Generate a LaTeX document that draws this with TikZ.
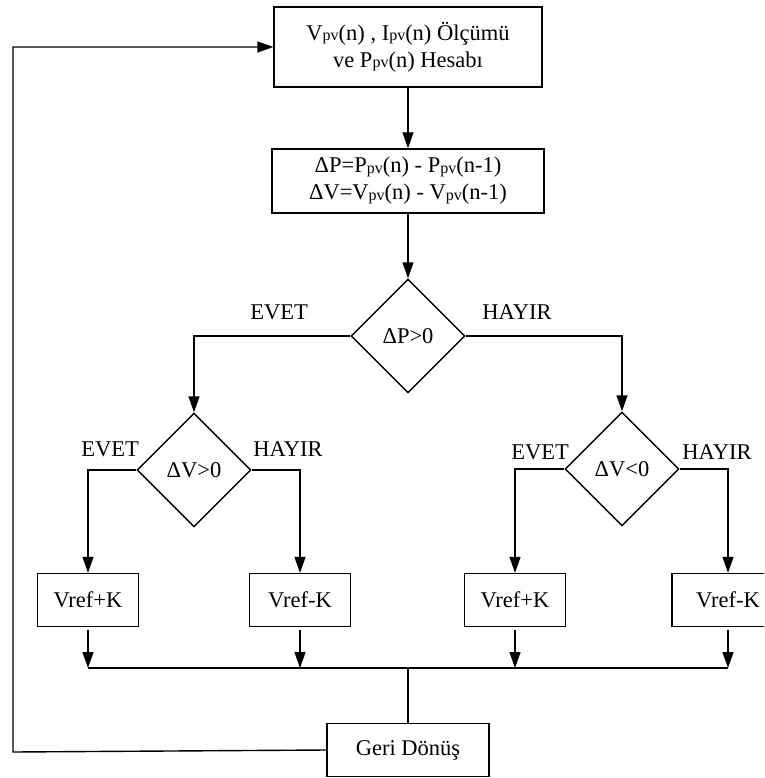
\documentclass[tikz,border=0pt]{standalone}
\usepackage{fontspec}
\setmainfont{Liberation Serif}
\usetikzlibrary{shapes.geometric,arrows.meta}
\newcommand\smpv{\raisebox{-0.5pt}{\fontsize{16}{16}\selectfont pv}}
\begin{document}
\begin{tikzpicture}[x=1pt,y=-1pt,
  every node/.style={font=\fontsize{22.5}{27}\selectfont},
  procbox/.style={draw,line width=1.4pt,inner sep=0pt,align=center,minimum height=53pt},
  decbox/.style={diamond,draw,line width=1.4pt,inner sep=0pt,minimum width=114pt,minimum height=114pt},
  conn/.style={line width=1.4pt,-{Triangle[length=16pt,width=11pt]}},
  plain/.style={line width=1.4pt}]
\useasboundingbox (0,0) rectangle (764,778);
\clip (0,0) rectangle (764,778);

\node[procbox,minimum width=268pt,minimum height=80pt] (top) at (408,47)
  {V\smpv(n) , I\smpv(n) Ölçümü\\ve P\smpv(n) Hesabı};
\node[procbox,minimum width=272pt,minimum height=64pt] (calc) at (408,181)
  {ΔP=P\smpv(n) - P\smpv(n-1)\\ΔV=V\smpv(n) - V\smpv(n-1)};
\node[decbox] (dP) at (408,336) {ΔP>0};
\node[decbox] (dV1) at (194,470) {ΔV>0};
\node[decbox] (dV2) at (622,469) {ΔV<0};

\node[procbox,minimum width=101pt] (b1) at (88,600) {Vref+K};
\node[procbox,minimum width=101pt] (b2) at (300,600) {Vref-K};
\node[procbox,minimum width=101pt] (b3) at (515,600) {Vref+K};
\node[procbox,minimum width=112pt] (b4) at (728,600) {Vref-K};
\node[procbox,minimum width=162pt] (geri) at (408,750) {Geri Dönüş};

\node (l1) at (279,312) {EVET};
\node (l2) at (517,312) {HAYIR};
\node (l3) at (110,449) {EVET};
\node (l4) at (288,449) {HAYIR};
\node (l5) at (540,452) {EVET};
\node (l6) at (717,452) {HAYIR};

\draw[conn] (top) -- (calc);
\draw[conn] (calc) -- (dP);
\draw[conn] (dP.west) -| (dV1.north);
\draw[conn] (dP.east) -| (dV2.north);
\draw[conn] (dV1.west) -| (b1.north);
\draw[conn] (dV1.east) -| (b2.north);
\draw[conn] (dV2.west) -| (b3.north);
\draw[conn] (dV2.east) -| (b4.north);

\coordinate (bus) at (408,668);
\foreach \b in {b1,b2,b3,b4}
  \draw[conn,shorten <=3pt] (\b.south) -- (\b.south |- bus);
\draw[plain] (b1.south |- bus) -- (b4.south |- bus);
\draw[plain] (bus) -- (geri.north);

\coordinate (lp) at (13,752);
\draw[conn] (geri.west) -- (lp) |- (top.west);
\end{tikzpicture}
\end{document}
